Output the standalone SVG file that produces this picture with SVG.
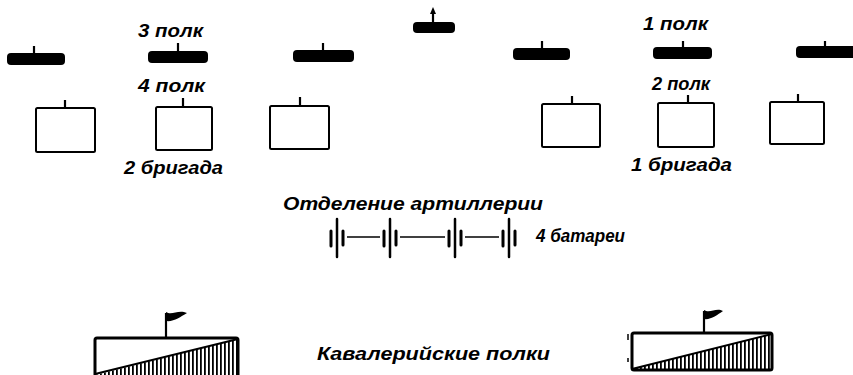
<svg xmlns="http://www.w3.org/2000/svg" width="853" height="375" viewBox="0 0 853 375">
<defs>
<style>
.t{font-family:"Liberation Sans",Arial,sans-serif;font-weight:bold;font-style:italic;font-size:18px;fill:#000}
.bar{fill:#000}
.tk{stroke:#000;stroke-width:2.2;fill:none}
.box{fill:#fff;stroke:#000;stroke-width:2}
.bs{stroke:#000;stroke-width:3;stroke-linecap:round}
.bl{stroke:#000;stroke-width:2.5;stroke-linecap:round}
.cn{stroke:#000;stroke-width:1.5;fill:none}
.cav{fill:#fff;stroke:#000;stroke-width:3}
</style>
<pattern id="hatch" patternUnits="userSpaceOnUse" width="4" height="10">
<rect x="0" y="0" width="1.8" height="10" fill="#000"/>
</pattern>
</defs>
<rect width="853" height="375" fill="#fff"/>

<g id="bar1"><rect class="bar" x="7" y="53" width="58" height="12" rx="4"/><line class="tk" x1="34" y1="46" x2="34" y2="54"/></g>
<g id="bar2"><rect class="bar" x="148" y="51" width="60" height="12" rx="4"/><line class="tk" x1="178" y1="43" x2="178" y2="52"/></g>
<g id="bar3"><rect class="bar" x="293" y="50" width="61" height="12" rx="4"/><line class="tk" x1="323" y1="43" x2="323" y2="51"/></g>
<g id="bar4"><rect class="bar" x="413" y="22" width="42" height="11" rx="4"/><line class="tk" x1="433" y1="12" x2="433" y2="23"/><polygon points="430,14 433,7 436,14" fill="#000"/></g>
<g id="bar5"><rect class="bar" x="513" y="48" width="57" height="12" rx="4"/><line class="tk" x1="542" y1="41" x2="542" y2="49"/></g>
<g id="bar6"><rect class="bar" x="653" y="47" width="59" height="12" rx="4"/><line class="tk" x1="683" y1="41" x2="683" y2="48"/></g>
<g id="bar7"><rect class="bar" x="796" y="46" width="60" height="12" rx="4"/><line class="tk" x1="825" y1="41" x2="825" y2="47"/></g>

<g id="box1"><rect class="box" x="36" y="108" width="59" height="44" rx="1.5"/><line class="tk" x1="65" y1="100" x2="65" y2="108"/></g>
<g id="box2"><rect class="box" x="156" y="107" width="56" height="43" rx="1.5"/><line class="tk" x1="183" y1="98" x2="183" y2="107"/></g>
<g id="box3"><rect class="box" x="270" y="106" width="59" height="43" rx="1.5"/><line class="tk" x1="300" y1="97" x2="300" y2="106"/></g>
<g id="box4"><rect class="box" x="542" y="104" width="58" height="43" rx="1.5"/><line class="tk" x1="572" y1="96" x2="572" y2="104"/></g>
<g id="box5"><rect class="box" x="658" y="103" width="56" height="44" rx="1.5"/><line class="tk" x1="688" y1="95" x2="688" y2="103"/></g>
<g id="box6"><rect class="box" x="770" y="102" width="54" height="42" rx="1.5"/><line class="tk" x1="798" y1="94" x2="798" y2="102"/></g>

<g id="labels">
<text class="t" x="138" y="37" textLength="65" lengthAdjust="spacingAndGlyphs">3 полк</text>
<text class="t" x="138" y="92" textLength="67" lengthAdjust="spacingAndGlyphs">4 полк</text>
<text class="t" x="124" y="174" textLength="99" lengthAdjust="spacingAndGlyphs">2 бригада</text>
<text class="t" x="643" y="30" textLength="65" lengthAdjust="spacingAndGlyphs">1 полк</text>
<text class="t" x="652" y="90" textLength="58" lengthAdjust="spacingAndGlyphs">2 полк</text>
<text class="t" x="631" y="171" textLength="101" lengthAdjust="spacingAndGlyphs">1 бригада</text>
<text class="t" x="283" y="210" textLength="260" lengthAdjust="spacingAndGlyphs">Отделение артиллерии</text>
<text class="t" x="536" y="242" textLength="89" lengthAdjust="spacingAndGlyphs">4 батареи</text>
<text class="t" x="317" y="360" textLength="233" lengthAdjust="spacingAndGlyphs">Кавалерийские полки</text>
</g>

<g id="battery1"><line class="bs" x1="331" y1="231" x2="331" y2="246"/><line class="bl" x1="337" y1="219" x2="337" y2="257"/><line class="bs" x1="343" y1="231" x2="343" y2="245"/></g>
<g id="battery2"><line class="bs" x1="384" y1="231" x2="384" y2="246"/><line class="bl" x1="390" y1="219" x2="390" y2="257"/><line class="bs" x1="396" y1="231" x2="396" y2="245"/></g>
<g id="battery3"><line class="bs" x1="449" y1="231" x2="449" y2="246"/><line class="bl" x1="455" y1="219" x2="455" y2="257"/><line class="bs" x1="461" y1="231" x2="461" y2="245"/></g>
<g id="battery4"><line class="bs" x1="503" y1="231" x2="503" y2="246"/><line class="bl" x1="509" y1="219" x2="509" y2="257"/><line class="bs" x1="515" y1="231" x2="515" y2="245"/></g>

<g id="connectors">
<line class="cn" x1="347" y1="237" x2="380" y2="237"/>
<line class="cn" x1="400" y1="237" x2="445" y2="237"/>
<line class="cn" x1="465" y1="237" x2="499" y2="237"/>
</g>

<g id="cavalry1">
<rect class="cav" x="95" y="338" width="143" height="40" rx="2"/>
<polygon points="95,375 238,339 238,375" fill="url(#hatch)"/>
<line stroke="#000" stroke-width="2" x1="95" y1="374" x2="238" y2="339"/>
<line class="tk" x1="166" y1="313" x2="166" y2="338"/>
<path d="M166,312 C172,316 178,309 187,313 C180,317 174,322 166,321 Z" fill="#000"/>
</g>

<g id="cavalry2">
<rect class="cav" x="632" y="333" width="140" height="37" rx="2"/>
<polygon points="632,369 772,334 772,369" fill="url(#hatch)"/>
<line stroke="#000" stroke-width="2" x1="632" y1="369" x2="772" y2="334"/>
<line class="tk" x1="704" y1="311" x2="704" y2="333"/>
<path d="M704,310 C710,314 716,307 723,311 C717,315 711,320 704,319 Z" fill="#000"/>
<line stroke="#000" stroke-width="1.5" x1="628" y1="334" x2="628" y2="340"/>
<line stroke="#000" stroke-width="1.5" x1="628" y1="358" x2="628" y2="362"/>
</g>
</svg>
